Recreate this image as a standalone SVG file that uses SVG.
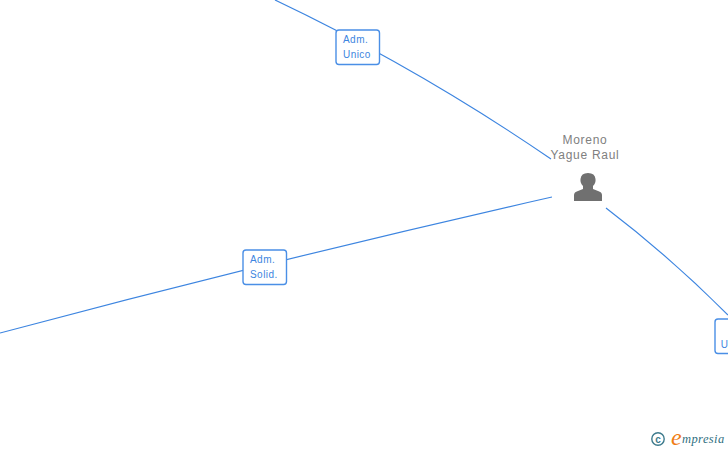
<svg xmlns="http://www.w3.org/2000/svg" width="728" height="450" viewBox="0 0 728 450">
<style>
.c{fill:none;stroke:#3d85e0;stroke-width:1.2}
.b{fill:#fff;stroke:#4a8fe6;stroke-width:1.4}
.l{font:10px "Liberation Sans",Arial,sans-serif;fill:#3d85e0;letter-spacing:.45px}
.n{font:12px "Liberation Sans",Arial,sans-serif;fill:#808080;text-anchor:middle;letter-spacing:.72px}
</style>
<rect width="728" height="450" fill="#fff"/>
<g id="connectors">
<path class="c" d="M275 0Q418 68 551 159"/>
<path class="c" d="M0 333Q278 259 552 197"/>
<path class="c" d="M606 208Q669 256 728 315"/>
</g>
<g id="edge-adm-unico"><rect class="b" x="336" y="30" width="43.500" height="34.500" rx="3"/><text class="l" x="343" y="43">Adm.</text><text class="l" x="343" y="58">Unico</text></g>
<g id="edge-adm-solid"><rect class="b" x="243" y="250" width="43.500" height="34.500" rx="3"/><text class="l" x="250" y="263">Adm.</text><text class="l" x="250" y="278">Solid.</text></g>
<g id="edge-right"><rect class="b" x="715" y="319" width="30" height="34.500" rx="3"/><text class="l" x="720.700" y="348">U</text></g>
<g id="node-moreno">
<text class="n" x="585" y="144">Moreno</text><text class="n" x="585" y="159">Yague Raul</text>
<path fill="#707070" d="M574 201V195Q574 192 578 191L583 189V186Q580 183 580.500 179Q581 173 588 173Q595 173 595.500 179Q596 183 593 186V189L598 191Q602 192 602 195V201Z"/>
</g>
<g id="logo">
<circle cx="658" cy="439" r="6.200" fill="none" stroke="#3d7a8c" stroke-width="1.400"/>
<text x="658" y="442.500" font-family="Liberation Sans,sans-serif" font-size="10" font-weight="bold" fill="#3d7a8c" text-anchor="middle">c</text>
<text x="671" y="445" font-family="Liberation Serif,serif" font-style="italic" font-size="24" fill="#f07d14">e</text>
<text x="682" y="443" font-family="Liberation Serif,serif" font-style="italic" font-size="12.500" fill="#2f6f80" letter-spacing=".4">mpresia</text>
</g>
</svg>
